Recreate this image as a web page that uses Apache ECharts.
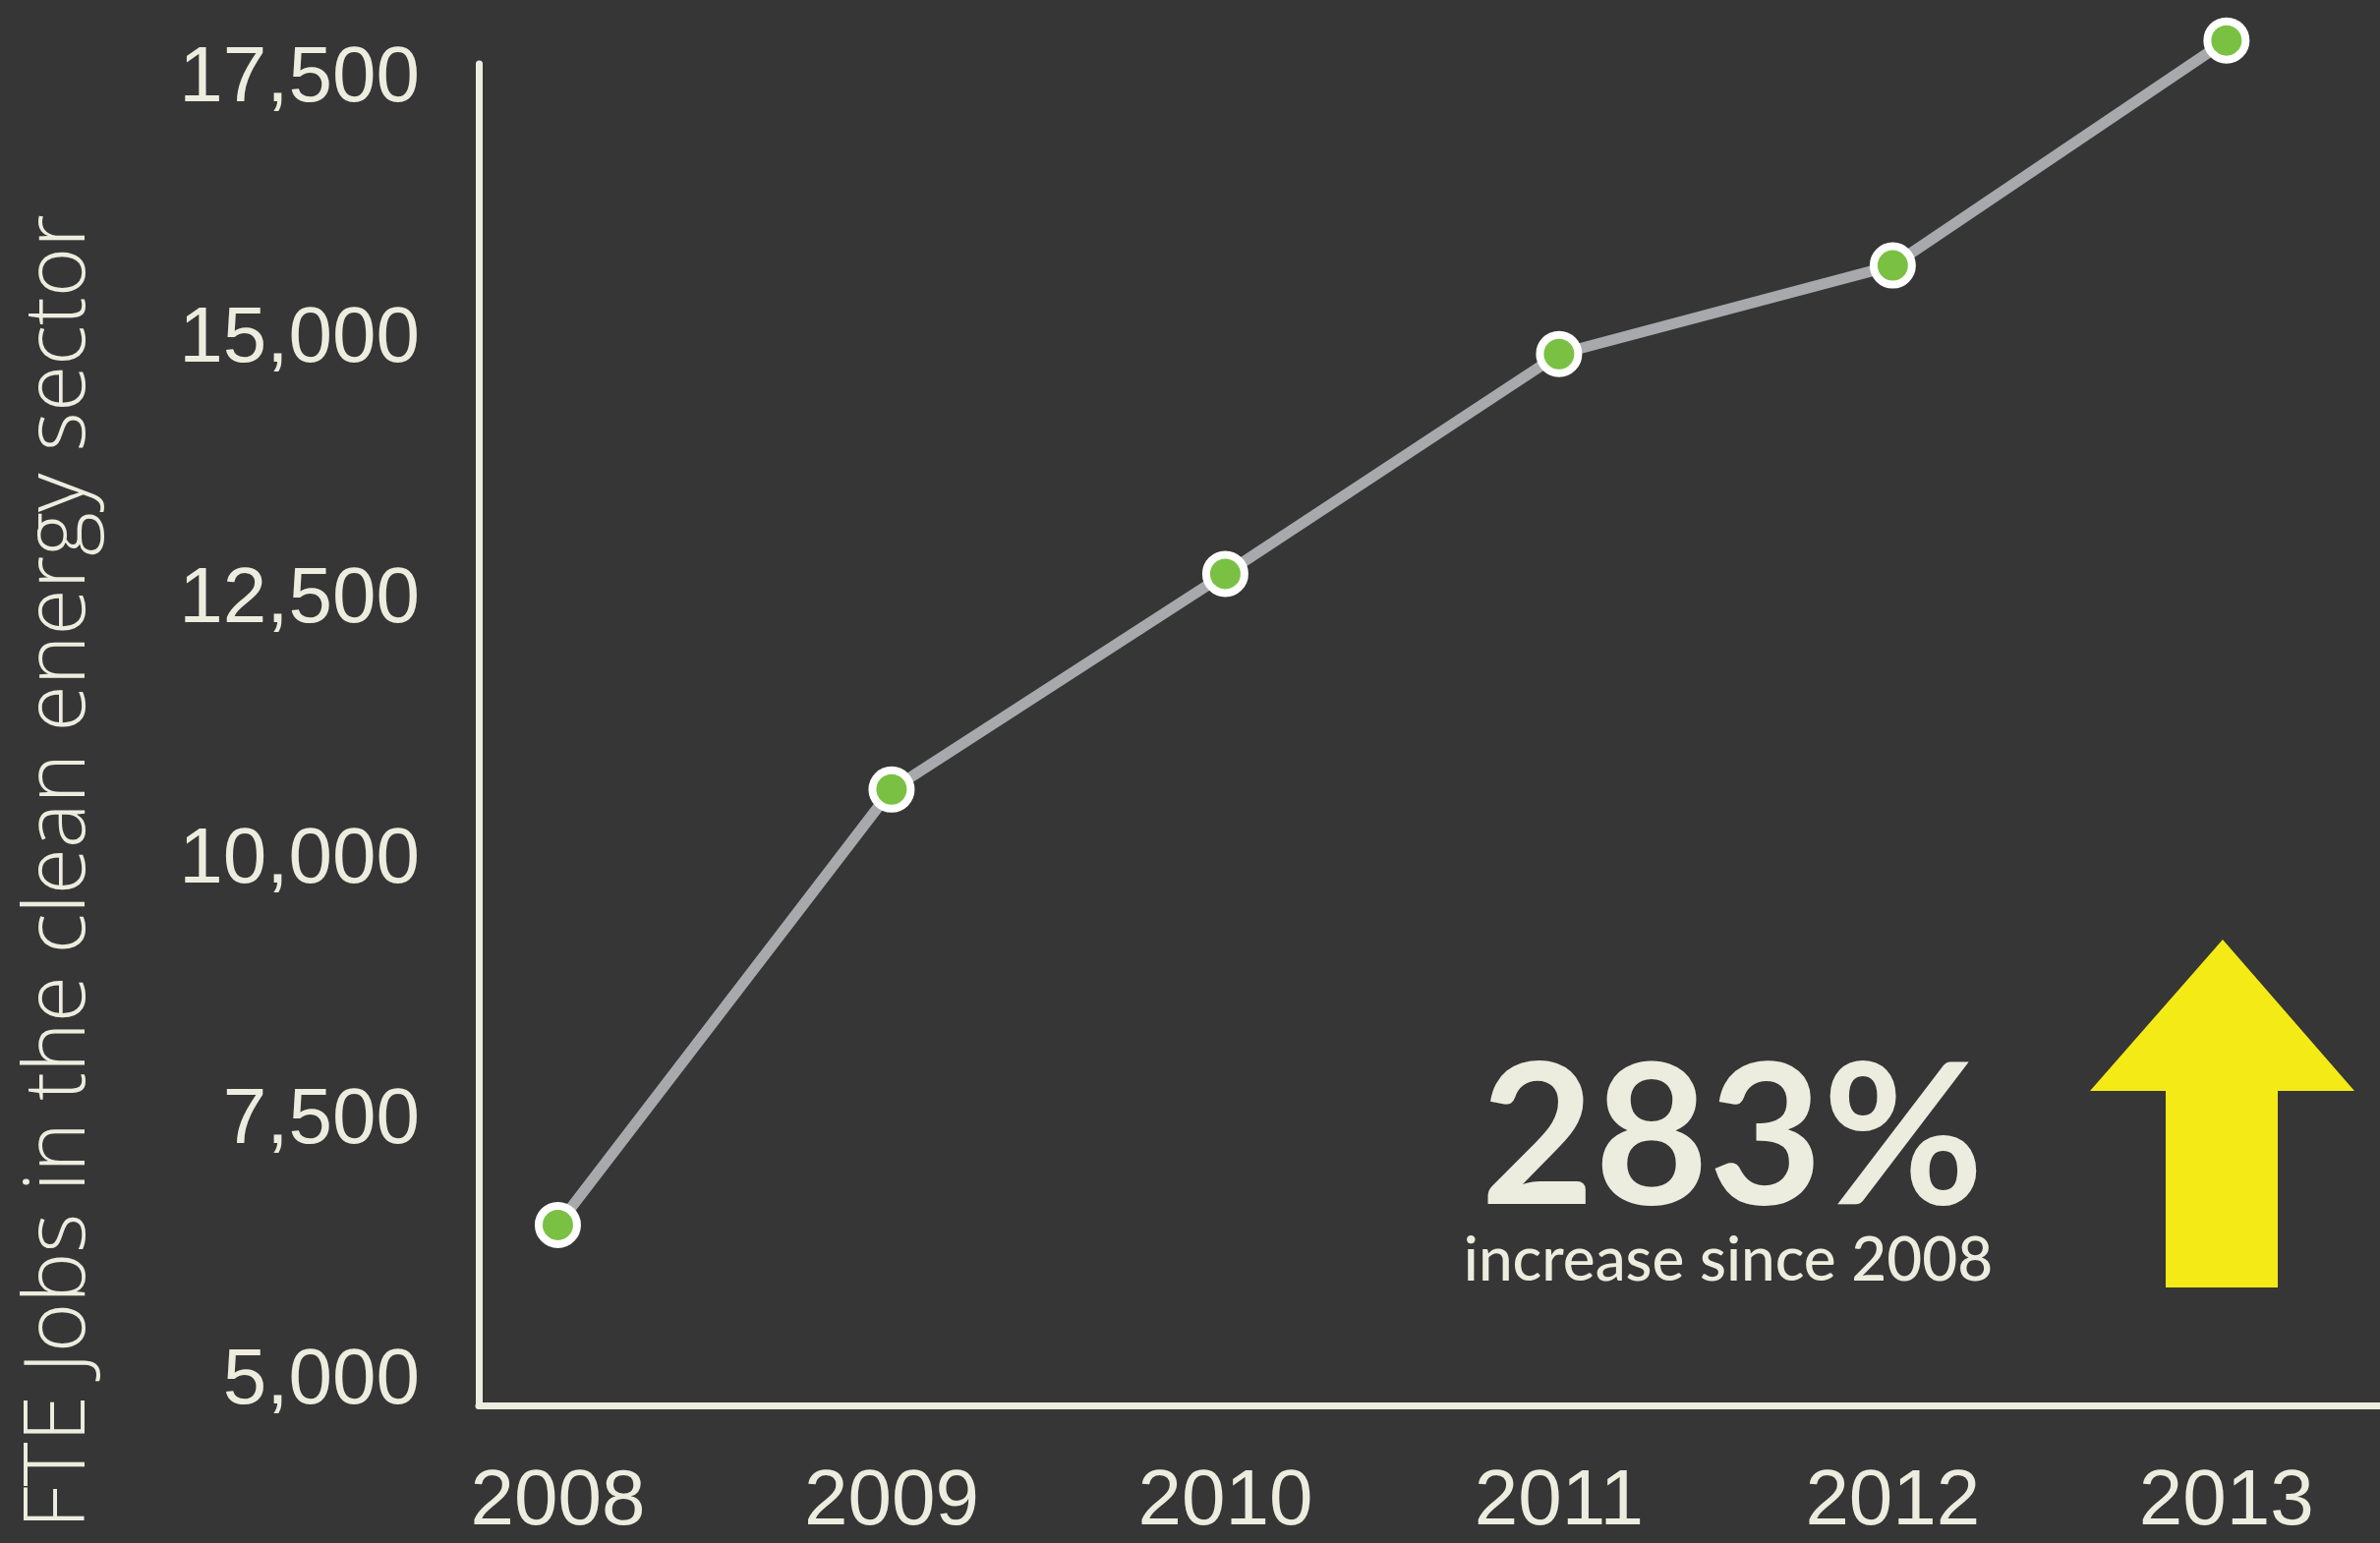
<!DOCTYPE html>
<html>
<head>
<meta charset="utf-8">
<script src="https://cdn.jsdelivr.net/npm/echarts@6/dist/echarts.min.js"></script>
<style>
html,body{margin:0;padding:0;background:#363636;}
#chart{width:2421px;height:1570px;}
</style>
</head>
<body>
<div id="chart"></div>
<script>
// Data
var years = [2008, 2009, 2010, 2011, 2012, 2013];
var jobs = [6430, 10610, 12680, 14790, 15640, 17800];
var yTickValues = [5000, 7500, 10000, 12500, 15000, 17500];
var xTickValues = [2008, 2009, 2010, 2011, 2012, 2013];
var yAxisTitle = 'FTE Jobs in the clean energy sector';
var bigStat = '283%';
var bigStatCaption = 'increase since 2008';

var cream = '#EDEDDF';
var chart = echarts.init(document.getElementById('chart'), null, {renderer: 'canvas'});

var seriesData = years.map(function (y, i) { return [y, jobs[i]]; });

chart.setOption({
  backgroundColor: '#363636',
  animation: false,
  grid: {left: 487, right: 0, top: 65, bottom: 140, containLabel: false},
  xAxis: {
    type: 'value',
    min: 2007.763,
    max: 2013.46,
    splitLine: {show: false},
    axisTick: {show: false},
    axisLine: {show: true, lineStyle: {color: cream, width: 7}},
    axisLabel: {
      customValues: xTickValues,
      margin: 59,
      color: cream,
      fontFamily: 'Liberation Sans',
      fontSize: 80,
      formatter: function (v) { return String(Math.round(v)); }
    }
  },
  yAxis: {
    type: 'value',
    min: 4698,
    max: 17575,
    splitLine: {show: false},
    axisTick: {show: false},
    axisLine: {show: true, lineStyle: {color: cream, width: 7}},
    axisLabel: {
      customValues: yTickValues,
      margin: 60,
      verticalAlign: 'top',
      lineHeight: 16,
      color: cream,
      fontFamily: 'Liberation Sans',
      fontSize: 80,
      formatter: function (v) { return Math.round(v).toLocaleString('en-US'); }
    }
  },
  series: [{
    type: 'line',
    data: seriesData,
    clip: false,
    symbol: 'circle',
    symbolSize: 39,
    lineStyle: {color: '#A7A9AC', width: 11},
    itemStyle: {color: '#7AC143', borderColor: '#FFFFFF', borderWidth: 8},
    z: 3
  }],
  graphic: [
    {
      type: 'text',
      x: 61, y: 887,
      rotation: Math.PI / 2,
      style: {
        text: yAxisTitle,
        fill: cream,
        font: '300 86px "Open Sans"',
        align: 'center',
        verticalAlign: 'middle'
      }
    },
    {
      type: 'text',
      x: 1762, y: 1160,
      style: {
        text: bigStat,
        fill: cream,
        font: 'bold 200px Lato',
        align: 'center',
        verticalAlign: 'middle'
      }
    },
    {
      type: 'text',
      x: 1758, y: 1283,
      style: {
        text: bigStatCaption,
        fill: cream,
        font: '500 62px Lato',
        align: 'center',
        verticalAlign: 'middle'
      }
    },
    {
      type: 'polygon',
      shape: {points: [[2261, 956], [2395, 1110], [2317, 1110], [2317, 1310], [2203, 1310], [2203, 1110], [2126, 1110]]},
      style: {fill: '#F4EA16'}
    }
  ]
});
</script>
</body>
</html>
